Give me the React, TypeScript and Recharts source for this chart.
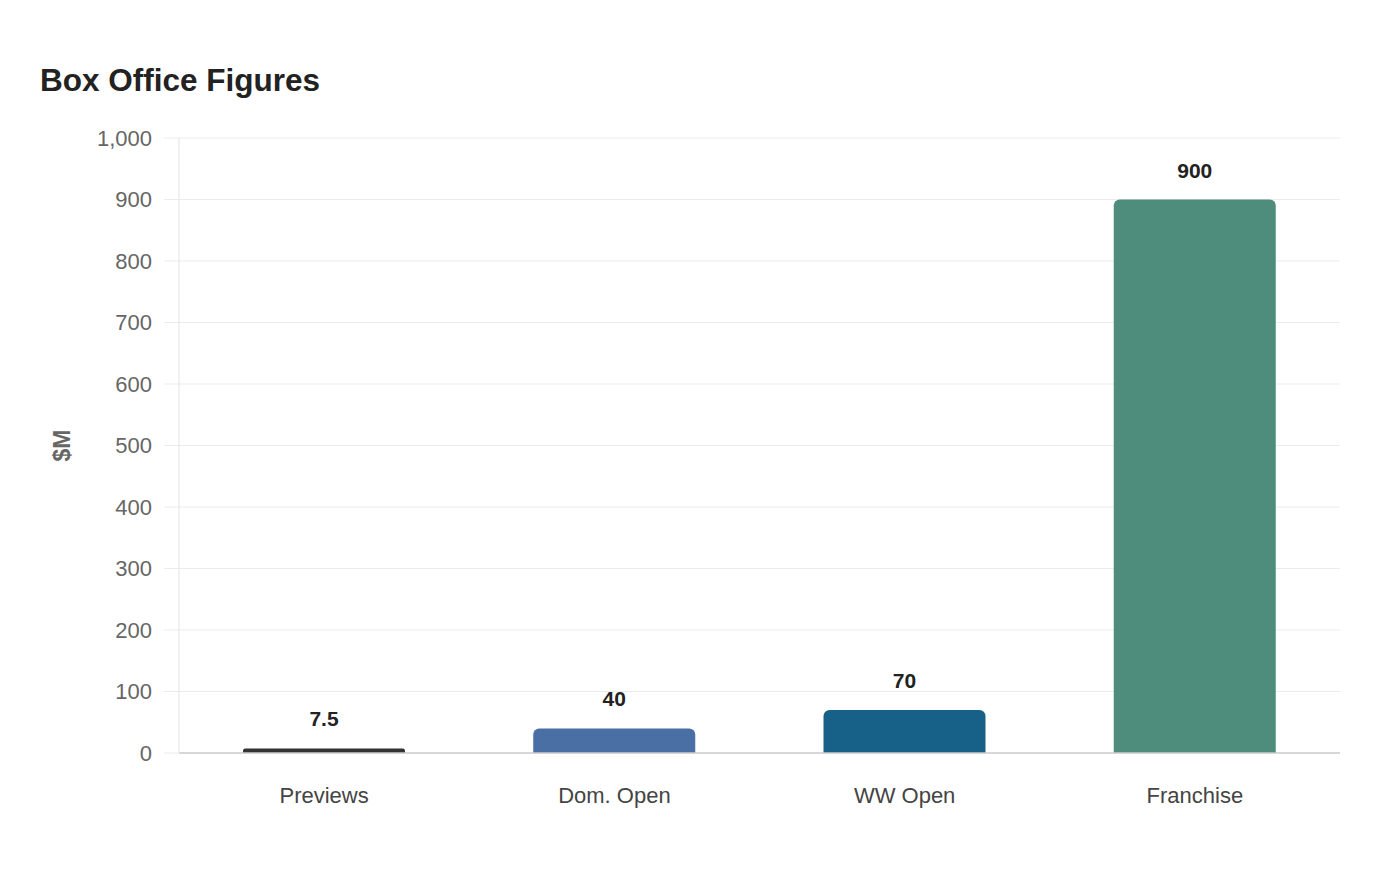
import { BarChart, Bar, XAxis, YAxis, CartesianGrid, LabelList, Cell } from "recharts";

const categories = ["Previews", "Dom. Open", "WW Open", "Franchise"];
const grossValues = [7.5, 40, 70, 900];
const barColors = ["#333333", "#4a6fa5", "#176087", "#4e8d7c"];
const yTicks = [0, 100, 200, 300, 400, 500, 600, 700, 800, 900, 1000];

const data = categories.map((name, i) => ({ name, value: grossValues[i] }));

const FONT = '"Liberation Sans", Arial, sans-serif';

export default function App() {
  return (
    <div style={{ position: "relative", width: 1384, height: 864, fontFamily: FONT }}>
      <div
        style={{
          position: "absolute",
          left: 32,
          top: 54,
          fontSize: 31.5,
          fontWeight: 700,
          color: "#222",
          lineHeight: "normal",
        }}
      >
        Box Office Figures
      </div>
      <div style={{ position: "absolute", left: 0, top: 0 }}>
        <BarChart
          width={1384}
          height={864}
          data={data}
          margin={{ top: 130, right: 52, bottom: 59, left: 91 }}
          style={{ fontFamily: FONT }}
        >
          <CartesianGrid vertical={false} stroke="#ebebeb" strokeWidth={1} />
          <XAxis
            dataKey="name"
            height={60}
            tickLine={false}
            axisLine={{ stroke: "#cccccc", strokeWidth: 1.5 }}
            tickMargin={28}
            tick={{ fill: "#444", fontSize: 22 }}
          />
          <YAxis
            width={80}
            domain={[0, 1000]}
            ticks={yTicks}
            interval={0}
            tickFormatter={(v: number) => v.toLocaleString("en-US")}
            tickSize={15}
            tickMargin={12}
            tickLine={{ stroke: "#ebebeb" }}
            axisLine={{ stroke: "#e3e3e3" }}
            tick={{ fill: "#666", fontSize: 22 }}
            label={{
              value: "$M",
              angle: -90,
              position: "center",
              dx: -77,
              fill: "#666",
              fontSize: 23,
              fontWeight: 700,
            }}
          />
          <Bar dataKey="value" barSize={162} radius={[6, 6, 0, 0]} isAnimationActive={false}>
            {data.map((d, i) => (
              <Cell key={d.name} fill={barColors[i]} />
            ))}
            <LabelList
              dataKey="value"
              position="top"
              offset={22}
              fill="#222"
              fontSize={21}
              fontWeight={700}
            />
          </Bar>
        </BarChart>
      </div>
    </div>
  );
}
